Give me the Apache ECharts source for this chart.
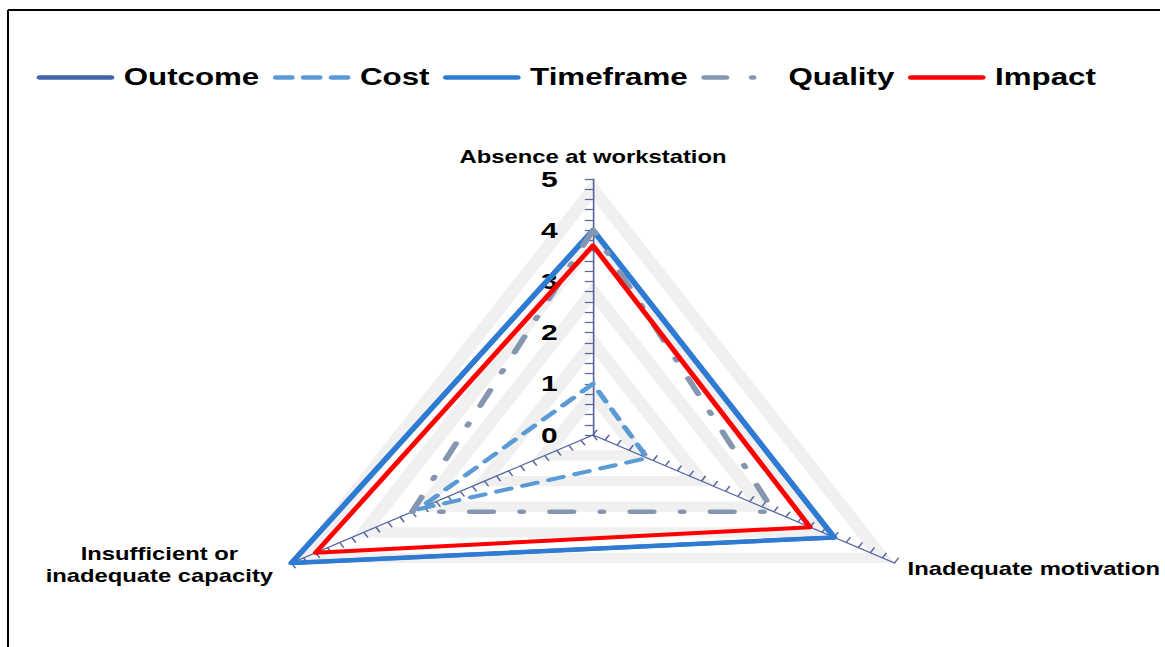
<!DOCTYPE html>
<html>
<head>
<meta charset="utf-8">
<script src="https://cdn.jsdelivr.net/npm/echarts@6/dist/echarts.min.js"></script>
<style>
  html, body { margin: 0; padding: 0; background: #fff; overflow: hidden; }
  #wrap { width: 1165px; height: 647px; overflow: hidden; position: relative; }
  #chart { height: 647px; transform-origin: 0 0; }
</style>
</head>
<body>
<div id="wrap"><div id="chart"></div></div>
<script>
// Axes of the radar, in drawing order (counter-clockwise from the top)
const indicators = ['Absence at workstation', 'Insufficient or\ninadequate capacity', 'Inadequate motivation'];
const axisMax = 5;

// Scores per axis, same order as indicators
const outcome   = [4, 5, 4];
const cost      = [1, 2.9, 0.9];
const timeframe = [4, 5, 4];
const quality   = [4, 3, 3];
const impact    = [3.7, 4.6, 3.6];

const seriesNames = ['Outcome', 'Cost', 'Timeframe', 'Quality', 'Impact'];

// The figure is drawn in a narrower frame and widened horizontally
const SX = 1.36;
const W = 1165, H = 647;
const el = document.getElementById('chart');
el.style.width = (W / SX) + 'px';
el.style.transform = 'scaleX(' + SX + ')';

const FONT = "'Liberation Sans', Arial, sans-serif";

// Legend glyphs: rounded strokes built as filled pill shapes
const IH = 4.5, IW = 57, R = IH / 2;
function pill(x0, x1) {
  return 'M' + (x0 + R) + ',0H' + (x1 - R) + 'A' + R + ',' + R + ' 0 0 1 ' + (x1 - R) + ',' + IH +
         'H' + (x0 + R) + 'A' + R + ',' + R + ' 0 0 1 ' + (x0 + R) + ',0Z';
}
const iconSolid = 'path://' + pill(0, IW);
const iconDash = 'path://' + pill(0, 16) + pill(20.5, 36.5) + pill(41, IW);
const iconDashDot = 'path://' + pill(0, 20.5) + pill(35, 40.5) + 'M' + IW + ',0L' + IW + ',' + IH;

const styles = [
  { color: '#4462AE', width: 4,   type: 'solid',           icon: iconSolid },
  { color: '#5B9BD5', width: 4,   type: [11, 9],           icon: iconDash },
  { color: '#2E7BD3', width: 4.5, type: 'solid',           icon: iconSolid },
  { color: '#8496B0', width: 4.5, type: [17, 20, 2, 20],   icon: iconDashDot },
  { color: '#FF0000', width: 4,   type: 'solid',           icon: iconSolid }
];
const values = [outcome, cost, timeframe, quality, impact];

// Gray band on the outer 0.4 of every unit ring
const bandColors = ['#FFFFFF', '#FFFFFF', '#FFFFFF', '#F0F0F0', '#F0F0F0'];

const nameStyle = { align: 'center', fontSize: 17.5, fontWeight: 'bold', fontFamily: FONT, color: '#000', lineHeight: 22 };

const chart = echarts.init(el, null, { renderer: 'svg' });
chart.setOption({
  animation: false,
  backgroundColor: '#fff',
  graphic: [
    { type: 'line', shape: { x1: 8 / SX, y1: 10, x2: 1160 / SX, y2: 10 }, style: { stroke: '#000', lineWidth: 2 } },
    { type: 'line', shape: { x1: 8 / SX, y1: 10, x2: 8 / SX, y2: H + 5 }, style: { stroke: '#000', lineWidth: 1.5 } }
  ],
  legend: {
    left: 22,
    top: 61,
    itemWidth: IW,
    itemHeight: IH,
    itemGap: 10,
    selectedMode: false,
    textStyle: { color: '#000', fontSize: 23, fontWeight: 'bold', fontFamily: FONT, padding: [0, 0, 0, 2] },
    data: seriesNames.map((n, i) => ({ name: n, icon: styles[i].icon, itemStyle: { color: styles[i].color } }))
  },
  radar: {
    center: [593 / SX, 435],
    radius: 256,
    startAngle: 90,
    shape: 'polygon',
    splitNumber: 25,
    nameGap: 11,
    axisName: {
      color: '#000',
      fontSize: 17.5,
      fontWeight: 'bold',
      fontFamily: FONT,
      formatter: v => (v.indexOf('\n') >= 0 ? '{m|' + v + '}' : '{c|' + v + '}'),
      rich: {
        c: nameStyle,
        m: Object.assign({}, nameStyle, { padding: [0, 4, 8, 0] })
      }
    },
    indicator: indicators.map((n, i) => ({
      name: n, min: 0, max: axisMax,
      axisLabel: { show: i === 0 }
    })),
    axisLine: { show: true, lineStyle: { color: '#5566A0', width: 1.2 } },
    axisTick: { show: true, length: 6, lineStyle: { color: '#5566A0', width: 1.2 } },
    axisLabel: {
      show: true,
      margin: 26,
      color: '#000',
      fontSize: 22,
      fontWeight: 'bold',
      fontFamily: FONT,
      formatter: v => (Math.abs(v - Math.round(v)) < 1e-6 ? String(Math.round(v)) : '')
    },
    splitLine: { show: false },
    splitArea: { show: true, areaStyle: { color: bandColors } }
  },
  series: [{
    type: 'radar',
    symbol: 'none',
    silent: true,
    data: seriesNames.map((n, i) => ({
      name: n,
      value: values[i],
      itemStyle: { color: styles[i].color },
      lineStyle: { color: styles[i].color, width: styles[i].width, type: styles[i].type, cap: 'round', join: 'round' }
    }))
  }]
});
</script>
</body>
</html>
